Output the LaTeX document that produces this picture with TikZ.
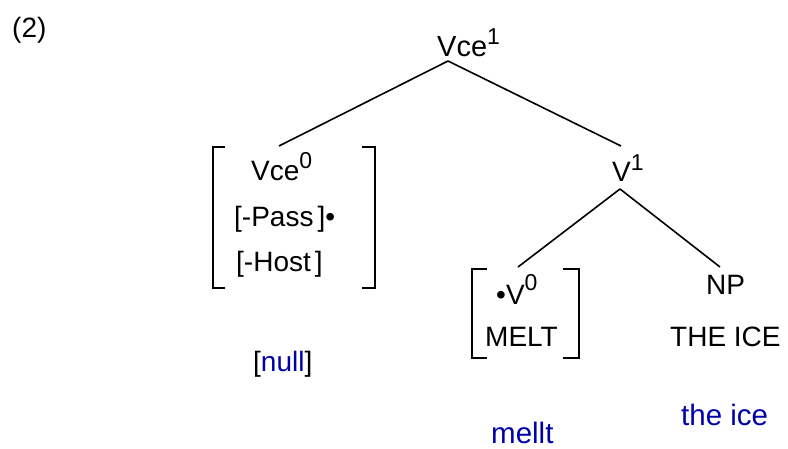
\documentclass[tikz,border=0pt]{standalone}
\usepackage{fontspec}
\setmainfont{Liberation Sans}
\definecolor{glossblue}{RGB}{0,0,170}
\newcommand{\supr}[2]{\raisebox{#1pt}{\fontsize{23}{25}\selectfont #2}}
\begin{document}
\begin{tikzpicture}[x=1pt,y=-1pt,
  lbl/.style={anchor=base west,inner sep=0pt,font=\fontsize{28}{32}\selectfont},
  gloss/.style={lbl,text=glossblue,font=\fontsize{29.5}{32}\selectfont},
  edge/.style={line width=1.6pt},
  brk/.style={line width=1.8pt}]
\useasboundingbox (0,0) rectangle (788,449);
\node[lbl] (num) at (12,38) {(2)};
% labels
\node[lbl,font=\fontsize{29}{32}\selectfont] (vce1) at (437,57) {Vce\supr{12}{1}};
\node[lbl] (vce0) at (251,181) {Vce\supr{12}{0}};
\node[lbl] (pass) at (234,227) {[-Pass\hspace{4pt}]•};
\node[lbl] (host) at (236,272) {[-Host\hspace{4pt}]};
\node[lbl] (v1) at (612,182) {V\supr{11}{1}};
\node[lbl] (v0) at (496,305) {•V\supr{14}{0}};
\node[lbl] (melt) at (485,347) {MELT};
\node[lbl] (np) at (706,295) {NP};
\node[lbl] (theice) at (670,347) {THE ICE};
\node[lbl] (null) at (253,372) {[\textcolor{glossblue}{null}]};
\node[gloss] (mellt) at (491,443) {mellt};
\node[gloss] (gice) at (681,425) {the ice};
% connector endpoints
\coordinate (a1) at (448,61);
\coordinate (l1) at (279,146);
\coordinate (r1) at (621,146);
\coordinate (a2) at (620,189);
\coordinate (l2) at (518,267);
\coordinate (r2) at (720,267);
\draw[edge] (a1) -- (l1);
\draw[edge] (a1) -- (r1);
\draw[edge] (a2) -- (l2);
\draw[edge] (a2) -- (r2);
% brackets
\draw[brk] (225,147) -- (213,147) -- (213,288) -- (225,288);
\draw[brk] (362,147) -- (375,147) -- (375,288) -- (362,288);
\draw[brk] (487,269) -- (472,269) -- (472,358) -- (487,358);
\draw[brk] (563,269) -- (579,269) -- (579,358) -- (563,358);
\end{tikzpicture}
\end{document}
